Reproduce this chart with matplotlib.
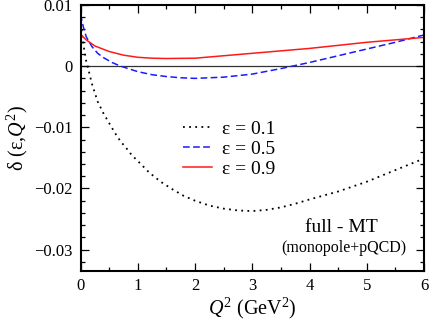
import matplotlib
matplotlib.use("Agg")
import matplotlib.pyplot as plt
from matplotlib.ticker import MultipleLocator

plt.rcParams['font.family'] = ['Liberation Serif', 'DejaVu Serif']
plt.rcParams['mathtext.fontset'] = 'custom'
plt.rcParams['mathtext.rm'] = 'Liberation Serif'
plt.rcParams['mathtext.it'] = 'Liberation Serif:italic'

# ---- data ----
q2_e01 = [0.0, 0.03, 0.06, 0.1, 0.15, 0.2, 0.3, 0.4, 0.5, 0.6, 0.7, 0.8, 0.9, 1.0,
          1.2, 1.4, 1.6, 1.8, 2.0, 2.25, 2.5, 2.75, 3.0, 3.25, 3.5, 3.75, 4.0,
          4.5, 5.0, 5.5, 6.0]
d_e01 = [0.0080, 0.0050, 0.0030, 0.0008, -0.0010, -0.0029, -0.0058, -0.0077, -0.0093,
         -0.0109, -0.0123, -0.0134, -0.0146, -0.0155, -0.0174, -0.0189, -0.0201,
         -0.0212, -0.0220, -0.0228, -0.0233, -0.0236, -0.0237, -0.0235, -0.0231,
         -0.0225, -0.0218, -0.0205, -0.0189, -0.0170, -0.0151]

q2_e05 = [0.0, 0.05, 0.1, 0.2, 0.3, 0.4, 0.55, 0.7, 1.0, 1.25, 1.5, 1.75, 2.0, 2.25,
          2.5, 3.0, 3.5, 4.0, 4.5, 5.0, 5.5, 6.0]
d_e05 = [0.0085, 0.0064, 0.0048, 0.0032, 0.0021, 0.0014, 0.0006, 0.0, -0.0009,
         -0.0014, -0.0017, -0.0019, -0.0020, -0.0019, -0.0018, -0.0013, -0.0004,
         0.0006, 0.0017, 0.0028, 0.0039, 0.0051]

q2_e09 = [0.0, 0.1, 0.25, 0.5, 0.75, 1.0, 1.25, 1.5, 2.0, 2.5, 3.0, 3.5, 4.0, 4.5,
          5.0, 5.5, 6.0]
d_e09 = [0.0052, 0.0043, 0.0033, 0.0024, 0.0018, 0.00145, 0.0013, 0.00125, 0.0013,
         0.0017, 0.0021, 0.0025, 0.0029, 0.0034, 0.0039, 0.0043, 0.0047]

labels = ['ε = 0.1', 'ε = 0.5', 'ε = 0.9']
x_ticks = [0, 1, 2, 3, 4, 5, 6]
x_ticklabels = ['0', '1', '2', '3', '4', '5', '6']
y_ticks = [0.01, 0.0, -0.01, -0.02, -0.03]
y_ticklabels = ['0.01', '0', '\u22120.01', '\u22120.02', '\u22120.03']

# ---- figure ----
fig = plt.figure(figsize=(4.29, 3.27), dpi=100)
ax = fig.add_axes([80.5/429, 1-271/327, (424-80.5)/429, (271-5)/327])

ax.axhline(0, color='#333333', lw=0.9, zorder=1)
ax.plot(q2_e01, d_e01, color='black', lw=1.3, linestyle=(0, (1, 2.4)), label=labels[0])
ax.plot(q2_e05, d_e05, color='#1a1aff', lw=1.1, linestyle=(0, (4.4, 2.2)), label=labels[1])
ax.plot(q2_e09, d_e09, color='#ff1a1a', lw=1.1, label=labels[2])

ax.set_xlim(0, 6)
ax.set_ylim(-0.0335, 0.01)
ax.set_xticks(x_ticks)
ax.set_xticklabels(x_ticklabels)
ax.set_yticks(y_ticks)
ax.set_yticklabels(y_ticklabels)
ax.xaxis.set_minor_locator(MultipleLocator(0.5))
ax.yaxis.set_minor_locator(MultipleLocator(0.002))
ax.tick_params(which='both', direction='in', top=True, right=True, labelsize=12, width=0.9)
ax.tick_params(axis='x', pad=5)
ax.tick_params(axis='y', pad=6)
ax.tick_params(which='major', length=6)
ax.tick_params(which='minor', length=3)
for s in ax.spines.values():
    s.set_linewidth(1.5)

ax.set_xlabel('$Q^2$ (GeV$^2$)', fontsize=14.5, labelpad=1)
ax.set_ylabel('δ (ε,$Q^2$)', fontsize=14.5, labelpad=3)

leg = ax.legend(loc='upper left', bbox_to_anchor=(183/429, 1-120/327),
                bbox_transform=fig.transFigure, frameon=False, fontsize=14,
                handlelength=1.5, handletextpad=0.5, labelspacing=0.13,
                borderpad=0, borderaxespad=0)

fig.text(341/429, 1-227/327, 'full - MT', fontsize=14, ha='center', va='center')
fig.text(344/429, 1-248/327, '(monopole+pQCD)', fontsize=11.5, ha='center', va='center')

fig.savefig('out.png', dpi=100)
